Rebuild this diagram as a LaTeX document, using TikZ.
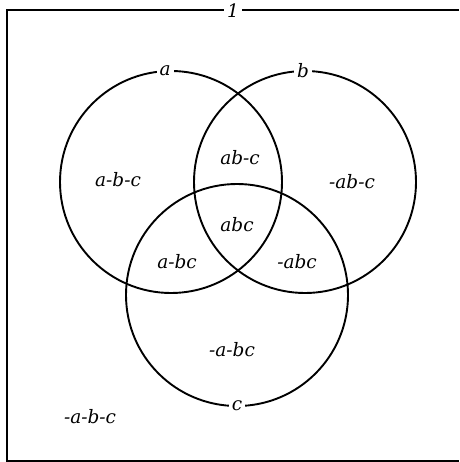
\documentclass[tikz,border=0pt]{standalone}
\usepackage{fontspec}
\setmainfont{DejaVu Serif}
\begin{document}
\begin{tikzpicture}[x=1pt,y=-1pt,
  ring/.style={line width=1.9pt},
  frameline/.style={line width=1.5pt},
  region/.style={font=\fontsize{18.5}{21}\selectfont\itshape, inner sep=1pt},
  tag/.style={font=\fontsize{18.5}{21}\selectfont\itshape, fill=white, inner xsep=3pt, inner ysep=1.5pt}]
\useasboundingbox (0,0) rectangle (459,462);
% frame (right side open as in the reference)
\coordinate (ftr) at (459,10);
\coordinate (ftl) at (7,10);
\coordinate (fbl) at (7,461);
\coordinate (fbr) at (459,461);
\draw[frameline] (ftr) -- (ftl) -- (fbl) -- (fbr);
\node[tag] (one) at (233,11) {1};
% circles
\coordinate (ca) at (171,182);
\coordinate (cb) at (305,182);
\coordinate (cc) at (237,295);
\draw[ring] (ca) circle[radius=111];
\draw[ring] (cb) circle[radius=111];
\draw[ring] (cc) circle[radius=111];
\node[tag] (la) at ([shift={(-93:111)}]ca) {a};
\node[tag] (lb) at ([shift={(-91:111)}]cb) {b};
\node[tag] (lc) at ([shift={(90:111)}]cc) {c};
% regions
\node[region] (r1) at (118,180) {a-b-c};
\node[region] (r2) at (240,158) {ab-c};
\node[region] (r3) at (352,182) {-ab-c};
\node[region] (r4) at (237,225) {abc};
\node[region] (r5) at (177,262) {a-bc};
\node[region] (r6) at (297,262) {-abc};
\node[region] (r7) at (232,350) {-a-bc};
\node[region] (r8) at (90,417) {-a-b-c};
\end{tikzpicture}
\end{document}
